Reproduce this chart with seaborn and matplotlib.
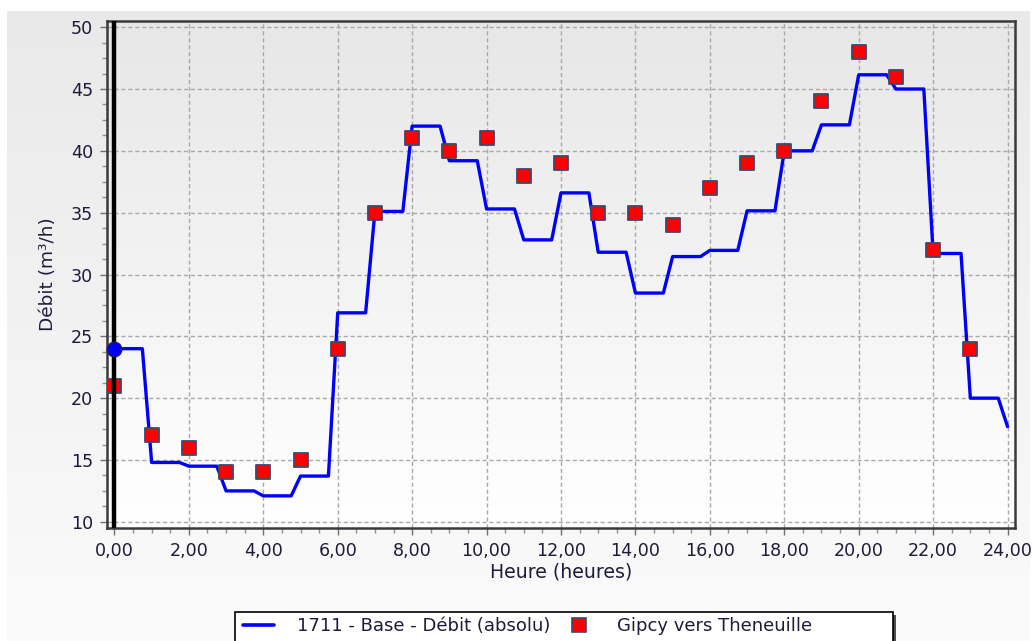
import numpy as np
import pandas as pd
import seaborn as sns
import matplotlib
matplotlib.use("Agg")
import matplotlib.pyplot as plt
from matplotlib.ticker import MultipleLocator, FuncFormatter
from matplotlib.lines import Line2D
from matplotlib.patches import Rectangle
from matplotlib.colors import LinearSegmentedColormap

# ---------------- data ----------------
line_hours = [0.0, 0.75, 1.0, 1.75, 2.0, 2.75, 3.0, 3.75, 4.0, 4.75, 5.0, 5.75,
              6.0, 6.75, 7.0, 7.75, 8.0, 8.75, 9.0, 9.75, 10.0, 10.75, 11.0, 11.75,
              12.0, 12.75, 13.0, 13.75, 14.0, 14.75, 15.0, 15.75, 16.0, 16.75,
              17.0, 17.75, 18.0, 18.75, 19.0, 19.75, 20.0, 20.75, 21.0, 21.75,
              22.0, 22.75, 23.0, 23.75, 24.0]
line_flow = [24.0, 24.0, 14.8, 14.8, 14.5, 14.5, 12.5, 12.5, 12.1, 12.1, 13.7, 13.7,
             26.9, 26.9, 35.1, 35.1, 42.0, 42.0, 39.2, 39.2, 35.3, 35.3, 32.8, 32.8,
             36.6, 36.6, 31.8, 31.8, 28.5, 28.5, 31.45, 31.45, 31.95, 31.95,
             35.15, 35.15, 40.0, 40.0, 42.1, 42.1, 46.15, 46.15, 45.0, 45.0,
             31.7, 31.7, 20.0, 20.0, 17.7]
obs_hours = [0, 1, 2, 3, 4, 5, 6, 7, 8, 9, 10, 11, 12, 13, 14, 15, 16, 17, 18, 19,
             20, 21, 22, 23]
obs_flow = [21, 17, 16, 14, 14, 15, 24, 35, 41, 40, 41, 38, 39, 35, 35, 34, 37, 39,
            40, 44, 48, 46, 32, 24]
x_ticks = [0, 2, 4, 6, 8, 10, 12, 14, 16, 18, 20, 22, 24]
y_ticks = [10, 15, 20, 25, 30, 35, 40, 45, 50]
line_label = "1711 - Base - Débit (absolu)"
obs_label = "Gipcy vers Theneuille"
x_title = "Heure (heures)"
y_title = "Débit (m³/h)"

sns.set_theme(style="white")
plt.rcParams["font.family"] = ["DejaVu Sans"]
text_col = "#1c1c3a"

W, H = 1033, 641
fig = plt.figure(figsize=(W / 100, H / 100), dpi=100, facecolor="white")

# outer gradient panel
grad = np.linspace(0, 1, 256).reshape(-1, 1)
bg = fig.add_axes([7 / W, 0, 1023 / W, 630 / H], zorder=-10)
bg.imshow(grad, aspect="auto", origin="upper", extent=[0, 1, 0, 1],
          cmap=LinearSegmentedColormap.from_list("bg", ["#e9e9e9", "#fbfbfb"]))
bg.axis("off")

pos = [107 / W, 1 - 528 / H, (1015 - 107) / W, (528 - 21) / H]
pa = fig.add_axes(pos, zorder=-5)
pa.imshow(grad, aspect="auto", origin="upper", extent=[0, 1, 0, 1],
          cmap=LinearSegmentedColormap.from_list("pa", ["#e7e7e7", "#ffffff"]))
pa.axis("off")

ax = fig.add_axes(pos)
ax.patch.set_alpha(0)

sns.lineplot(x=line_hours, y=line_flow, ax=ax, color="#0000ff", lw=2.4,
             estimator=None, sort=False, legend=False, zorder=3)
sns.scatterplot(x=obs_hours, y=obs_flow, ax=ax, marker="s", s=105,
                color="#ff0000", edgecolor="#404868", linewidth=1.3,
                legend=False, zorder=4)
ax.axvline(x_ticks[0], color="black", lw=3.2, zorder=5)
sns.scatterplot(x=[line_hours[0]], y=[line_flow[0]], ax=ax, s=110,
                color="#0000ff", edgecolor="#20204a", linewidth=1.0,
                legend=False, zorder=6, clip_on=False)

ax.set_xlim(-0.2, 24.2)
ax.set_ylim(9.5, 50.5)
ax.set_xticks(x_ticks)
ax.set_yticks(y_ticks)
ax.xaxis.set_minor_locator(MultipleLocator(0.5))
ax.yaxis.set_minor_locator(MultipleLocator(1.25))
ax.xaxis.set_major_formatter(FuncFormatter(lambda v, p: f"{v:.2f}".replace(".", ",")))
ax.yaxis.set_major_formatter(FuncFormatter(lambda v, p: f"{v:.0f}"))
ax.tick_params(which="major", direction="out", length=5, width=1, color="#707070",
               labelsize=12.6, labelcolor=text_col, pad=5)
ax.tick_params(which="minor", direction="out", length=3.5, width=1, color="#909090")
ax.tick_params(axis="x", which="both", bottom=True)
ax.tick_params(axis="y", which="both", left=True)
ax.grid(True, which="major", color="#a8a8a8", linestyle=(0, (3, 2)), lw=1)
for sp in ax.spines.values():
    sp.set_color("#3a3a3a")
    sp.set_linewidth(1.8)

ax.set_xlabel(x_title, fontsize=13.6, color=text_col, labelpad=2)
ax.set_ylabel(y_title, fontsize=13.3, color=text_col, labelpad=10)

# legend frame (wide box with shadow, extends past the bottom edge)
fig.patches.append(Rectangle((238 / W, -10 / H), 658 / W, (641 - 615 + 10) / H,
                             transform=fig.transFigure, facecolor="#303030",
                             edgecolor="none", alpha=0.85, zorder=1))
fig.patches.append(Rectangle((235 / W, -10 / H), 658 / W, (641 - 612 + 10) / H,
                             transform=fig.transFigure, facecolor="white",
                             edgecolor="black", linewidth=1.2, zorder=2))

handles = [
    Line2D([], [], color="#0000ff", lw=2.6),
    Line2D([], [], color="#ff0000", marker="s", ls="none", markersize=10,
           markeredgecolor="#404868", markeredgewidth=1.2),
]
leg = fig.legend(handles, [line_label, obs_label], loc="center left",
                 bbox_to_anchor=(243 / W, 1 - 626 / H), ncol=2, fontsize=13,
                 frameon=False, handlelength=1.72, handletextpad=1.27,
                 columnspacing=0.72, borderpad=0, borderaxespad=0)
leg.set_zorder(3)
for t in leg.get_texts():
    t.set_color(text_col)

fig.savefig("out.png", dpi=100, facecolor="white")
